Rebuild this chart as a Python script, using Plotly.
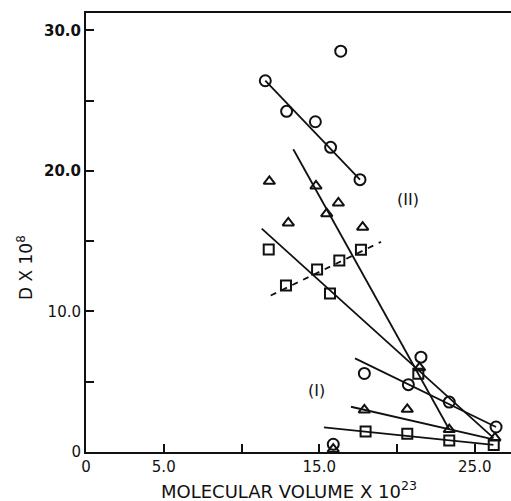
import plotly.graph_objects as go

# ---- data ----
circle_x = [11.53, 12.9, 14.75, 15.73, 16.38, 17.62, 17.9, 20.73, 21.54, 23.36, 26.37, 15.9]
circle_y = [26.42, 24.24, 23.5, 21.68, 28.52, 19.38, 5.59, 4.79, 6.75, 3.55, 1.78, 0.55]

triangle_x = [11.79, 13.01, 14.79, 15.48, 16.23, 17.79, 17.9, 20.66, 21.45, 23.36, 26.3, 15.9]
triangle_y = [19.26, 16.3, 18.93, 16.96, 17.72, 16.0, 2.99, 3.04, 6.0, 1.6, 1.0, 0.2]

square_x = [11.75, 12.86, 14.86, 15.69, 16.29, 17.68, 17.98, 20.66, 21.37, 23.36, 26.22, 15.9]
square_y = [14.41, 11.85, 12.98, 11.28, 13.62, 14.4, 1.45, 1.3, 5.56, 0.82, 0.5, -0.1]

# fitted lines (end points)
fit_lines_x = [[11.53, 17.62], [13.33, 23.36], [11.3, 26.2], [17.3, 26.37], [17.04, 26.2], [15.3, 26.2]]
fit_lines_y = [[26.42, 19.38], [21.54, 1.6], [15.9, 1.0], [6.66, 1.78], [3.22, 0.9], [1.75, 0.5]]
dashed_x = [11.88, 18.97]
dashed_y = [11.14, 14.95]

x_tickvals = [0, 5, 15, 25]
x_ticktext = ["0", "5.0", "15.0", "25.0"]
y_tickvals = [0, 10, 20, 30]
y_ticktext = ["0", "10.0", "<b>20.0</b>", "<b>30.0</b>"]

INK = "#111111"
FONT = "Liberation Sans"
TITLE_FONT = "DejaVu Sans"

fig = go.Figure()

for lx, ly in zip(fit_lines_x, fit_lines_y):
    fig.add_trace(go.Scatter(x=lx, y=ly, mode="lines",
                             line=dict(color=INK, width=1.8), showlegend=False))
fig.add_trace(go.Scatter(x=dashed_x, y=dashed_y, mode="lines",
                         line=dict(color=INK, width=1.8, dash="6px,6px"), showlegend=False))

marker_line = dict(color=INK, width=2)
fig.add_trace(go.Scatter(x=circle_x, y=circle_y, mode="markers", cliponaxis=False,
                         marker=dict(symbol="circle-open", size=11, color=INK, line=marker_line),
                         showlegend=False))
fig.add_trace(go.Scatter(x=triangle_x, y=triangle_y, mode="markers", cliponaxis=False,
                         marker=dict(symbol="triangle-up-open", size=10, color=INK, line=marker_line),
                         showlegend=False))
fig.add_trace(go.Scatter(x=square_x, y=square_y, mode="markers", cliponaxis=False,
                         marker=dict(symbol="square-open", size=10, color=INK, line=marker_line),
                         showlegend=False))

fig.add_annotation(x=20.7, y=18.0, text="(II)", showarrow=False,
                   font=dict(family=TITLE_FONT, size=16, color=INK))
fig.add_annotation(x=14.83, y=4.4, text="(I)", showarrow=False,
                   font=dict(family=TITLE_FONT, size=16, color=INK))

# axis titles as paper annotations
fig.add_annotation(xref="paper", yref="paper", x=(289 - 86) / 425, y=-(490 - 452) / 439,
                   text="MOLECULAR VOLUME X 10<sup>23</sup>", showarrow=False,
                   xanchor="center", yanchor="middle",
                   font=dict(family=TITLE_FONT, size=18, color=INK))
fig.add_annotation(xref="paper", yref="paper", x=-(86 - 25) / 425, y=(452 - 268) / 439,
                   text="D X 10<sup>8</sup>", showarrow=False, textangle=-90,
                   xanchor="center", yanchor="middle",
                   font=dict(family=TITLE_FONT, size=17, color=INK))

fig.update_layout(
    width=511, height=501,
    margin=dict(l=86, r=0, t=13, b=49, autoexpand=False),
    paper_bgcolor="white", plot_bgcolor="white",
    font=dict(family=FONT, size=15, color=INK),
    xaxis=dict(range=[0, 27.33], tickvals=x_tickvals, ticktext=x_ticktext,
               ticks="inside", ticklen=8, tickwidth=2, tickcolor=INK,
               minor=dict(tick0=0, dtick=5, ticks="inside", ticklen=8, tickwidth=2, tickcolor=INK),
               showline=True, linecolor=INK, linewidth=2, mirror=True,
               showgrid=False, zeroline=False, automargin=False,
               tickfont=dict(family=TITLE_FONT, size=15, color=INK)),
    yaxis=dict(range=[0, 31.24], tickvals=y_tickvals, ticktext=y_ticktext,
               ticks="inside", ticklen=8, tickwidth=2, tickcolor=INK,
               minor=dict(tick0=0, dtick=5, ticks="inside", ticklen=8, tickwidth=2, tickcolor=INK),
               showline=True, linecolor=INK, linewidth=2, mirror=False,
               showgrid=False, zeroline=False, automargin=False,
               tickfont=dict(family=TITLE_FONT, size=15, color=INK)),
)

fig.write_html("out.html", config={"displayModeBar": False},
               post_script="document.body.style.margin='0px';document.body.style.overflow='hidden';")
